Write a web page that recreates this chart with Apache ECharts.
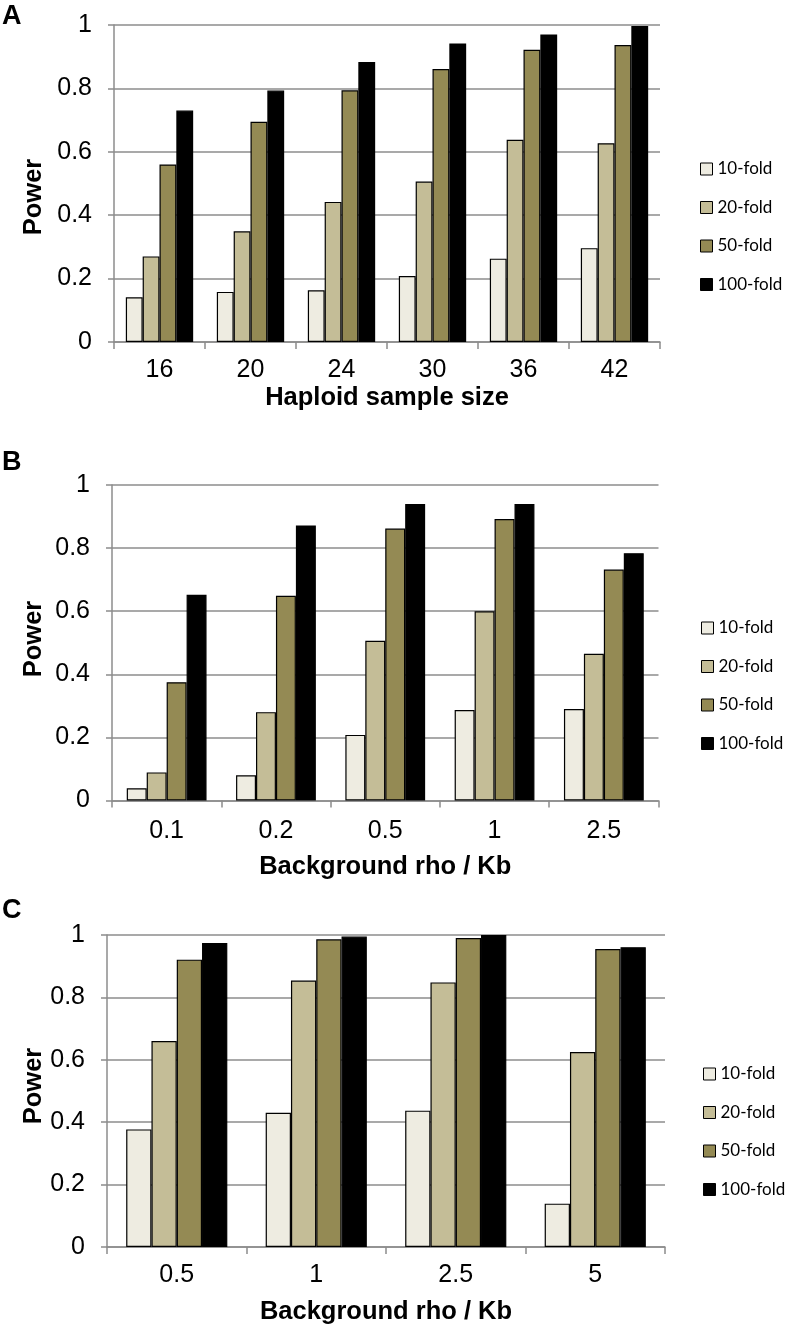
<!DOCTYPE html>
<html>
<head>
<meta charset="utf-8">
<script src="https://cdn.jsdelivr.net/npm/echarts@6/dist/echarts.min.js"></script>
<style>html,body{margin:0;padding:0;background:#fff}#c{width:789px;height:1329px}</style>
</head>
<body>
<div id="c"></div>
<script>
// ---- data ----
var seriesNames = ['10-fold', '20-fold', '50-fold', '100-fold'];
var yTicks = [0, 0.2, 0.4, 0.6, 0.8, 1];

var catsA = ['16', '20', '24', '30', '36', '42'];
var a10  = [0.141, 0.158, 0.163, 0.208, 0.263, 0.296];
var a20  = [0.270, 0.349, 0.442, 0.506, 0.638, 0.627];
var a50  = [0.560, 0.695, 0.794, 0.861, 0.922, 0.937];
var a100 = [0.730, 0.793, 0.883, 0.942, 0.970, 0.997];

var catsB = ['0.1', '0.2', '0.5', '1', '2.5'];
var b10  = [0.039, 0.080, 0.208, 0.287, 0.290];
var b20  = [0.089, 0.280, 0.506, 0.600, 0.465];
var b50  = [0.375, 0.649, 0.862, 0.892, 0.732];
var b100 = [0.652, 0.872, 0.940, 0.940, 0.784];

var catsC = ['0.5', '1', '2.5', '5'];
var c10  = [0.377, 0.430, 0.437, 0.139];
var c20  = [0.660, 0.854, 0.848, 0.625];
var c50  = [0.921, 0.986, 0.990, 0.955];
var c100 = [0.974, 0.995, 1.000, 0.961];

var xTitleA = 'Haploid sample size';
var xTitleBC = 'Background rho / Kb';
var yTitle = 'Power';
var panelLetters = ['A', 'B', 'C'];

// ---- styling ----
var colors = ['#EEECE1', '#C4BD97', '#948A54', '#000000'];
var gray = '#8c8c8c';
var font = '"Liberation Sans", Arial, sans-serif';

var panels = [
  {cats: catsA, data: [a10, a20, a50, a100], title: xTitleA, grid: {left: 114, top: 25, width: 546, height: 317}, gap: '26%',
   labelMargin: 16, nameGap: 42.5, powerY: 197, legend: {left: 695, top: 154}},
  {cats: catsB, data: [b10, b20, b50, b100], title: xTitleBC, grid: {left: 112, top: 485, width: 546.5, height: 315.5}, gap: '27%',
   labelMargin: 18, nameGap: 53, powerY: 639, legend: {left: 696, top: 613}},
  {cats: catsC, data: [c10, c20, c50, c100], title: xTitleBC, grid: {left: 107, top: 935, width: 558, height: 312}, gap: '27.5%',
   labelMargin: 16, nameGap: 51.5, powerY: 1086, legend: {left: 698, top: 1059}}
];

var grids = [], xAxes = [], yAxes = [], series = [], legends = [], graphics = [];
panels.forEach(function (p, i) {
  grids.push(p.grid);
  xAxes.push({
    type: 'category', gridIndex: i, data: p.cats,
    axisLine: {show: true, lineStyle: {color: gray, width: 1.5}},
    axisTick: {show: true, length: 7, alignWithLabel: false, lineStyle: {color: gray, width: 1.5}},
    axisLabel: {fontSize: 25, color: '#000', margin: p.labelMargin, fontFamily: font},
    name: p.title, nameLocation: 'middle', nameGap: p.nameGap,
    nameTextStyle: {fontSize: 25.5, fontWeight: 'bold', color: '#000', fontFamily: font}
  });
  yAxes.push({
    type: 'value', gridIndex: i, min: yTicks[0], max: yTicks[yTicks.length - 1], interval: 0.2,
    axisLine: {show: true, lineStyle: {color: gray, width: 1.5}},
    axisTick: {show: true, length: 6, inside: false, lineStyle: {color: gray, width: 1.5}},
    splitLine: {show: true, lineStyle: {color: gray, width: 1.5}},
    axisLabel: {fontSize: 25, color: '#000', margin: 22, fontFamily: font}
  });
  p.data.forEach(function (vals, k) {
    series.push({
      type: 'bar', name: seriesNames[k], xAxisIndex: i, yAxisIndex: i, data: vals,
      barGap: '0%', barCategoryGap: p.gap,
      itemStyle: {color: colors[k], borderColor: '#000', borderWidth: 1.2},
      emphasis: {disabled: true}, silent: true
    });
  });
  legends.push({
    orient: 'vertical', left: p.legend.left, top: p.legend.top,
    data: seriesNames, icon: 'rect', itemWidth: 12, itemHeight: 12, itemGap: 18.5,
    selectedMode: false,
    textStyle: {fontSize: 17, lineHeight: 20, color: '#000', fontFamily: 'Lato, "Open Sans", sans-serif'},
    itemStyle: {borderColor: '#000', borderWidth: 1}
  });
  graphics.push({
    type: 'text', x: 34, y: p.powerY, rotation: Math.PI / 2,
    style: {text: yTitle, fontSize: 25.5, fontWeight: 'bold', fontFamily: font, fill: '#000', align: 'center', verticalAlign: 'middle'}
  });
});
var letterY = [17, 463, 911];
panelLetters.forEach(function (L, i) {
  graphics.push({
    type: 'text', x: 2, y: letterY[i],
    style: {text: L, fontSize: 27, fontWeight: 'bold', fontFamily: font, fill: '#000', align: 'left', verticalAlign: 'middle'}
  });
});

var chart = echarts.init(document.getElementById('c'), null, {renderer: 'canvas'});
chart.setOption({
  animation: false,
  backgroundColor: '#fff',
  grid: grids, xAxis: xAxes, yAxis: yAxes, series: series,
  legend: legends, graphic: graphics
});
</script>
</body>
</html>
